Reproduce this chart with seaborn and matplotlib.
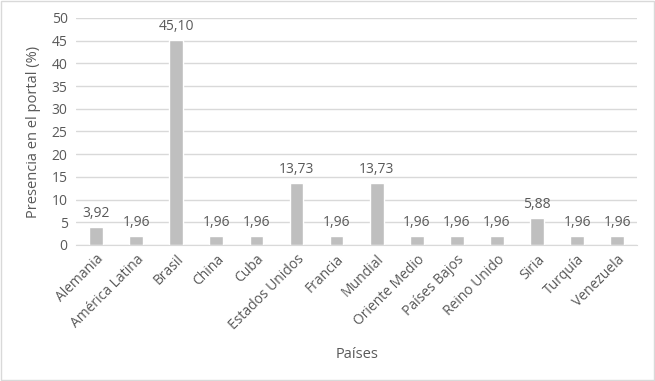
import numpy as np
import pandas as pd
import seaborn as sns
import matplotlib.pyplot as plt

paises = ["Alemania", "América Latina", "Brasil", "China", "Cuba", "Estados Unidos",
          "Francia", "Mundial", "Oriente Medio", "Países Bajos", "Reino Unido",
          "Siria", "Turquía", "Venezuela"]
presencia = [3.92, 1.96, 45.10, 1.96, 1.96, 13.73, 1.96, 13.73, 1.96, 1.96, 1.96,
             5.88, 1.96, 1.96]

df = pd.DataFrame({"pais": paises, "valor": presencia})

sns.set_style("white")
plt.rcParams['font.family'] = ['Open Sans', 'DejaVu Sans']
txt = "#595959"

fig = plt.figure(figsize=(6.55, 3.81), dpi=100)
ax = fig.add_axes([0.116, 0.357, 0.857, 0.596])
sns.barplot(data=df, x="pais", y="valor", color="#bfbfbf", width=0.34,
            saturation=1, ax=ax, zorder=2)

ax.set_ylim(0, 50)
ax.set_yticks(range(0, 51, 5))
ax.yaxis.grid(True, color="#d9d9d9", linewidth=1, zorder=0)
ax.set_axisbelow(True)
for s in ["top", "right", "left"]:
    ax.spines[s].set_visible(False)
ax.spines["bottom"].set_color("#d9d9d9")
ax.tick_params(axis="y", length=0, colors=txt, labelsize=10, pad=6)
ax.tick_params(axis="x", length=0, colors=txt, labelsize=10, pad=5)
ax.set_xlim(-0.5, len(paises) - 0.5)
plt.setp(ax.get_xticklabels(), rotation=45, ha="right", rotation_mode="anchor")

for i, v in enumerate(presencia):
    ax.text(i, v + 1.3, f"{v:.2f}".replace(".", ","), ha="center", va="bottom",
            color=txt, fontsize=10)

ax.set_xlabel("Países", color=txt, fontsize=10.5, labelpad=10)
ax.set_ylabel("Presencia en el portal (%)", color=txt, fontsize=10.5, labelpad=8)

fig.patches.append(plt.Rectangle((0.002, 0.003), 0.996, 0.994, transform=fig.transFigure,
                                 fill=False, edgecolor="#d9d9d9", linewidth=1))

fig.savefig("out.png", dpi=100, facecolor="white")
